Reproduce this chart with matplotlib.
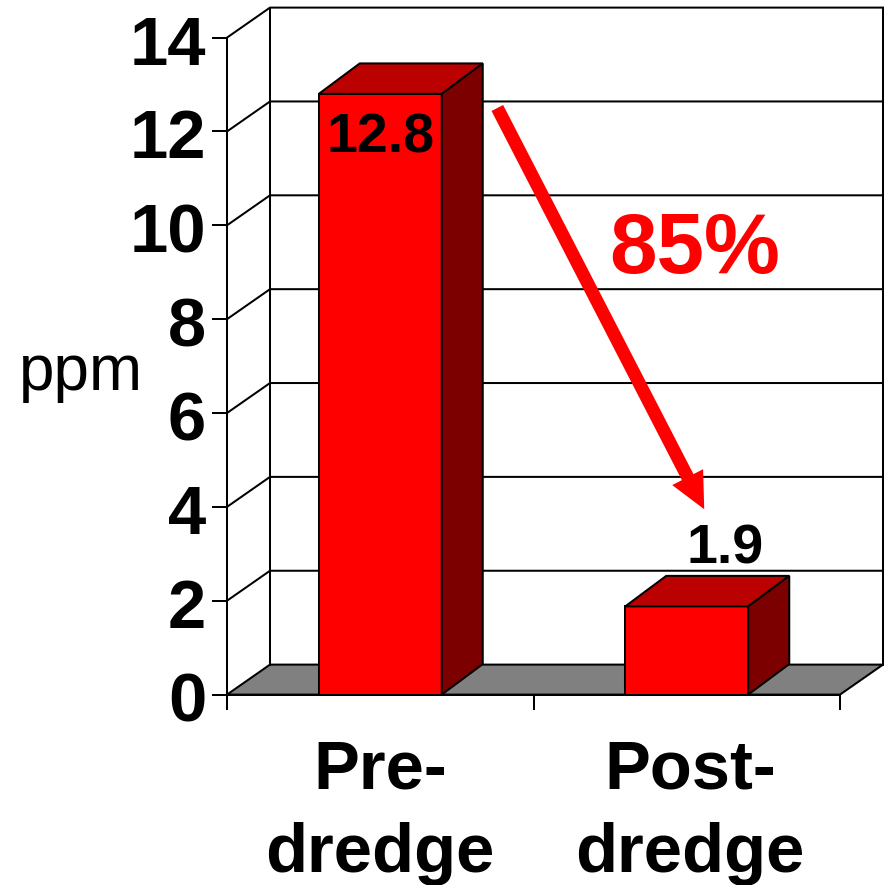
import matplotlib
matplotlib.use("Agg")
from matplotlib import pyplot as plt
from matplotlib.patches import Polygon, FancyArrowPatch
from matplotlib.transforms import ScaledTranslation

plt.rcParams['font.family'] = ['Liberation Sans', 'DejaVu Sans']

categories = ["Pre-\ndredge", "Post-\ndredge"]
values = [12.8, 1.88]
value_labels = ["12.8", "1.9"]
yticks = [0, 2, 4, 6, 8, 10, 12, 14]

# 3d look: offset of the back wall, in data units
px_x = 306.5
px_y = 46.93
dx = 43 / px_x
dy = 30 / px_y
bar_dx = 41 / px_x
bar_dy = 30.5 / px_y
bar_w = 123 / px_x
lw = 1.45

fig = plt.figure(figsize=(8.9, 8.85), dpi=100)
ax = fig.add_axes([227 / 890, (885 - 694.6) / 885, 613 / 890, 657 / 885])
ax.set_xlim(0, 2)
ax.set_ylim(0, 14)
ax.patch.set_visible(False)
for s in ['top', 'right']:
    ax.spines[s].set_visible(False)
for s in ['left', 'bottom']:
    ax.spines[s].set_linewidth(lw)

# floor and walls
ax.add_patch(Polygon([(0, 0), (2, 0), (2 + dx, dy), (dx, dy)], closed=True, fc='#808080', ec='black', lw=lw, clip_on=False, zorder=1))
for v in yticks:
    if v > 0:
        ax.plot([0, dx, 2 + dx], [v, v + dy, v + dy], color='black', lw=lw, clip_on=False, zorder=1)
ax.plot([dx, dx], [dy, 14 + dy], color='black', lw=lw, clip_on=False, zorder=1)
ax.plot([2 + dx, 2 + dx], [dy, 14 + dy], color='black', lw=lw, clip_on=False, zorder=1)

# bars
for i, v in enumerate(values):
    x0 = i + 0.5 - bar_w / 2
    x1 = i + 0.5 + bar_w / 2
    ax.add_patch(Polygon([(x0, 0), (x1, 0), (x1, v), (x0, v)], closed=True, fc='#FF0000', ec='black', lw=lw, clip_on=False, zorder=3))
    ax.add_patch(Polygon([(x0, v), (x1, v), (x1 + bar_dx, v + bar_dy), (x0 + bar_dx, v + bar_dy)], closed=True, fc='#BB0000', ec='black', lw=lw, clip_on=False, zorder=3))
    ax.add_patch(Polygon([(x1, 0), (x1 + bar_dx, bar_dy), (x1 + bar_dx, v + bar_dy), (x1, v)], closed=True, fc='#7D0000', ec='black', lw=lw, clip_on=False, zorder=3))

ax.text(0.5, 12.8 - 0.87 - 3.5 / px_y, value_labels[0], ha='center', va='center', fontsize=40, fontweight='bold', zorder=5)
ax.text(1.625, 3.2 - 5 / px_y, value_labels[1], ha='center', va='center', fontsize=40, fontweight='bold', zorder=5)

# drop arrow
arrow = FancyArrowPatch((0.882, 12.5), (1.557, 3.95), arrowstyle='simple,head_length=2.6,head_width=2.5,tail_width=0.94',
                        mutation_scale=10, fc='#FF0000', ec='none', shrinkA=0, shrinkB=0, clip_on=False, zorder=6)
ax.add_patch(arrow)
ax.text(1.527, 9.55 - 5 / px_y, "85%", color='#FF0000', ha='center', va='center', fontsize=61.5, fontweight='bold', zorder=6)

ax.set_yticks(yticks)
ax.set_xticks([0, 1, 2])
ax.set_xticklabels([])
ax.tick_params(axis='y', length=11, width=lw, labelsize=49.5, pad=4)
ax.tick_params(axis='x', length=11, width=lw, direction='out')
shift = ScaledTranslation(0, -2 / 100, fig.dpi_scale_trans)
for t in ax.get_yticklabels():
    t.set_fontweight('bold')
    t.set_transform(t.get_transform() + shift)

label_x = [0.5, 1.51]
for x, c in zip(label_x, categories):
    ax.text(x, -1.0 + 3 / px_y, c, ha='center', va='top', fontsize=49.5, fontweight='bold', linespacing=1.38)

fig.text(81 / 890, 1 - 373 / 885, "ppm", ha='center', va='center', fontsize=46)

fig.savefig("out.png", dpi=100)
